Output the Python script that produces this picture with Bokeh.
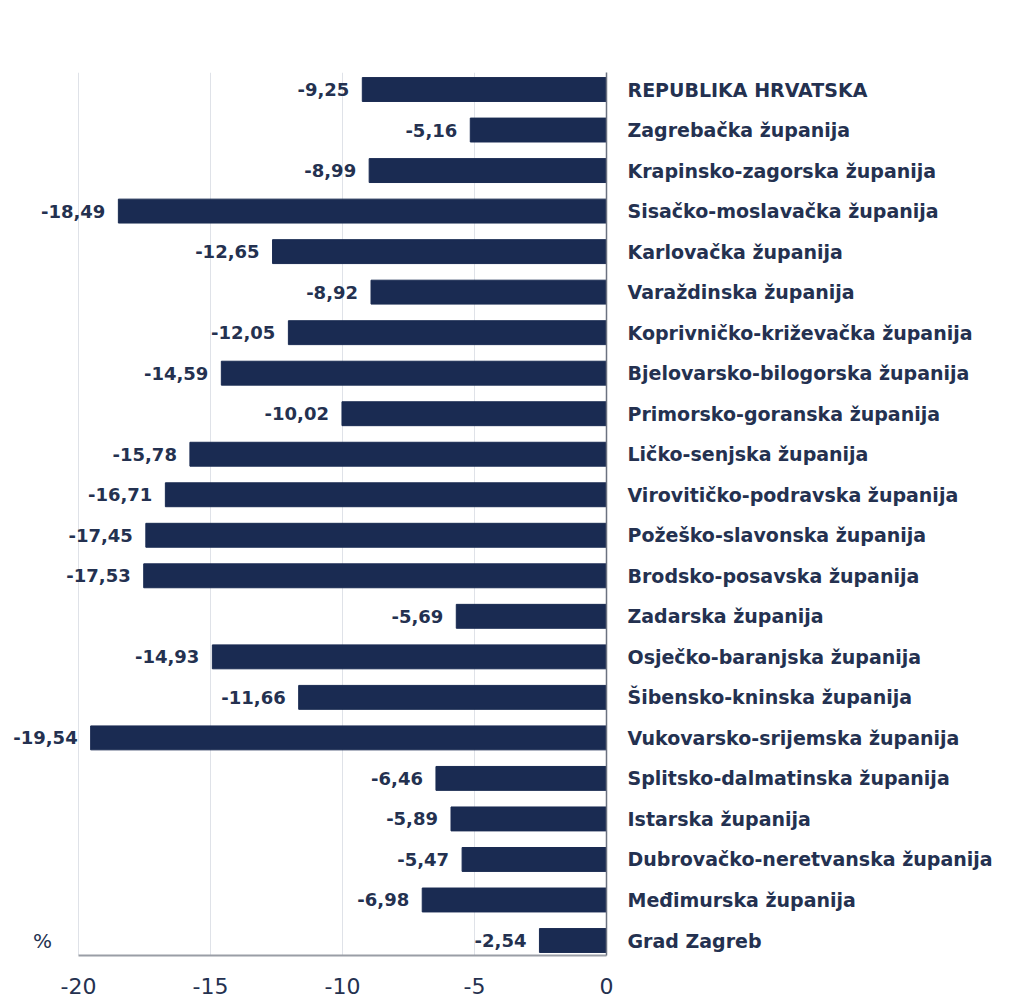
from bokeh.plotting import figure
from bokeh.models import Range1d, FixedTicker, Label, ColumnDataSource
from bokeh.embed import file_html
from bokeh.resources import INLINE
from bokeh.core.properties import value

categories = [
    "REPUBLIKA HRVATSKA",
    "Zagrebačka županija",
    "Krapinsko-zagorska županija",
    "Sisačko-moslavačka županija",
    "Karlovačka županija",
    "Varaždinska županija",
    "Koprivničko-križevačka županija",
    "Bjelovarsko-bilogorska županija",
    "Primorsko-goranska županija",
    "Ličko-senjska županija",
    "Virovitičko-podravska županija",
    "Požeško-slavonska županija",
    "Brodsko-posavska županija",
    "Zadarska županija",
    "Osječko-baranjska županija",
    "Šibensko-kninska županija",
    "Vukovarsko-srijemska županija",
    "Splitsko-dalmatinska županija",
    "Istarska županija",
    "Dubrovačko-neretvanska županija",
    "Međimurska županija",
    "Grad Zagreb",
]
values = [-9.25, -5.16, -8.99, -18.49, -12.65, -8.92, -12.05, -14.59, -10.02, -15.78,
          -16.71, -17.45, -17.53, -5.69, -14.93, -11.66, -19.54, -6.46, -5.89, -5.47,
          -6.98, -2.54]
x_ticks = [-20, -15, -10, -5, 0]
x_tick_labels = ["-20", "-15", "-10", "-5", "0"]

n = len(categories)
ys = [float(n - 1 - i) for i in range(n)]
labels = [f"{v:.2f}".replace(".", ",") for v in values]

NAVY = "#1a2b52"
TEXT = "#243150"
FONT = "DejaVu Sans"

src = ColumnDataSource(dict(y=ys, v=values, lab=labels, cat=categories))

p = figure(
    frame_width=606, frame_height=883,
    min_border_left=0, min_border_top=72, min_border_right=421, min_border_bottom=42,
    x_range=Range1d(-22.955, 0), y_range=Range1d(-0.37, 21.42),
    y_axis_location="right",
    output_backend="svg", toolbar_location=None,
    background_fill_color="white", border_fill_color="white",
)
p.outline_line_color = None

# grid
p.xgrid.ticker = FixedTicker(ticks=[t for t in x_ticks if t != 0])
p.xgrid.grid_line_color = "#dfe2e8"
p.xgrid.grid_line_width = 1
p.ygrid.grid_line_color = None

p.hbar(y="y", left="v", right=0, height=0.59, color=NAVY, source=src)
p.text(x="v", y="y", text="lab", source=src, x_offset=-13,
       text_align="right", text_baseline="middle",
       text_font=value(FONT), text_font_size="18px", text_font_style="bold",
       text_color=TEXT)

# x axis
xa = p.xaxis[0]
xa.ticker = FixedTicker(ticks=x_ticks)
xa.major_label_overrides = {t: s for t, s in zip(x_ticks, x_tick_labels)}
xa.bounds = (-20, 0)
xa.axis_line_color = "#9a9ea6"
xa.axis_line_width = 2
xa.major_tick_line_color = None
xa.minor_tick_line_color = None
xa.major_label_standoff = 16
xa.major_label_text_font = FONT
xa.major_label_text_font_size = "22px"
xa.major_label_text_color = TEXT

# right category axis (zero line)
ya = p.yaxis[0]
ya.ticker = FixedTicker(ticks=ys)
ya.major_label_overrides = {y: c for y, c in zip(ys, categories)}
ya.axis_line_color = "#6b7280"
ya.axis_line_width = 1.5
ya.major_tick_line_color = None
ya.minor_tick_line_color = None
ya.major_label_standoff = 15
ya.major_label_text_font = FONT
ya.major_label_text_font_size = "19px"
ya.major_label_text_color = TEXT
ya.major_label_text_font_style = "bold"

p.add_layout(Label(x=-21.36, y=0, text="%", text_align="center", text_baseline="middle",
                   text_font=FONT, text_font_size="20px", text_color=TEXT))

open("out.html", "w").write(file_html(p, INLINE))
